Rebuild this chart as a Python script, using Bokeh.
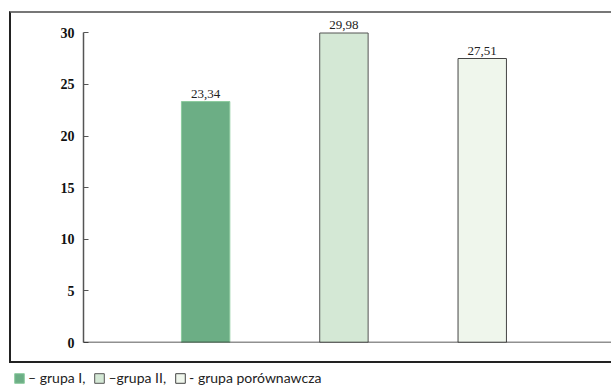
from bokeh.plotting import figure
from bokeh.layouts import column
from bokeh.models import (ColumnDataSource, Range1d, LinearAxis, FixedTicker,
                          Span, LabelSet, Legend, LegendItem)
from bokeh.embed import file_html
from bokeh.resources import INLINE

# Data
groups = ["grupa I", "grupa II", "grupa porównawcza"]
values = [23.34, 29.98, 27.51]
value_labels = ["23,34", "29,98", "27,51"]
legend_labels = ["– grupa I,", "–grupa II,", "- grupa porównawcza"]
y_ticks = [0, 5, 10, 15, 20, 25, 30]

fills = ["#6cae85", "#d4e8d5", "#eff6ec"]
edges = ["#8ccb9e", "#555555", "#444444"]

positions = [i + 1 for i in range(len(groups))]
src = ColumnDataSource(dict(x=positions, top=values, lab=value_labels,
                            fill=fills, edge=edges, name=groups))

# Chart, framed on the left, top and bottom by a CSS border
chart = figure(width=600, height=348, output_backend="svg", toolbar_location=None,
               x_range=Range1d(0.117, 3.949), y_range=Range1d(0, 31.87),
               min_border_left=72, min_border_right=0, min_border_top=0,
               min_border_bottom=23, x_axis_location=None, y_axis_location=None,
               background_fill_color=None, border_fill_color=None,
               frame_align=False,
               styles={"box-sizing": "content-box", "overflow": "visible",
                       "margin-left": "9px", "margin-top": "11px",
                       "border-left": "2px solid #222222",
                       "border-top": "2px solid #777777",
                       "border-bottom": "2px solid #222222"})
chart.outline_line_color = None
chart.grid.grid_line_color = None

# Y axis: bold serif labels, ticks pointing into the plot
yaxis = LinearAxis(ticker=FixedTicker(ticks=y_ticks), bounds=(0, 30))
yaxis.axis_line_color = "#555555"
yaxis.axis_line_width = 1.5
yaxis.major_tick_in = 5
yaxis.major_tick_out = 0
yaxis.major_tick_line_color = "#555555"
yaxis.major_tick_line_width = 1.2
yaxis.minor_tick_line_color = None
yaxis.major_label_standoff = 9
yaxis.major_label_text_font = "Liberation Serif"
yaxis.major_label_text_font_style = "bold"
yaxis.major_label_text_font_size = "14px"
yaxis.major_label_text_color = "#111111"
chart.add_layout(yaxis, "left")

# Baseline
chart.add_layout(Span(location=0, dimension="width", line_color="#222222",
                      line_width=1.5))

bars = chart.vbar(x="x", top="top", width=0.35, bottom=0, source=src,
                  fill_color="fill", line_color="edge", line_width=1)

chart.add_layout(LabelSet(x="x", y="top", text="lab", source=src,
                          text_align="center", text_baseline="bottom", y_offset=4,
                          text_font="Lato", text_font_size="13px",
                          text_color="#222222"))

# Legend strip below the framed chart; its bar renderer only feeds the legend
# swatches, the visible ranges lie away from the data
key = figure(width=611, height=24, output_backend="svg", toolbar_location=None,
             x_range=Range1d(100, 101), y_range=Range1d(100, 101),
             min_border=0, x_axis_location=None, y_axis_location=None,
             background_fill_color=None, border_fill_color=None,
             frame_align=False)
key.outline_line_color = None
key.grid.grid_line_color = None
key_bars = key.vbar(x="x", top="top", width=0.35, bottom=0, source=src,
                    fill_color="fill", line_color="edge", line_width=1)

legend = Legend(items=[LegendItem(label=legend_labels[i], renderers=[key_bars], index=i)
                       for i in range(len(groups))],
                orientation="horizontal", location=(13, 1),
                glyph_width=12, glyph_height=12, label_standoff=3, spacing=8,
                padding=0, margin=0, border_line_color=None,
                background_fill_alpha=0, label_text_font="Lato",
                label_text_font_size="14px", label_text_color="#222222",
                label_height=13)
key.add_layout(legend)

page = column(chart, key, spacing=0)

open("out.html", "w").write(file_html(page, INLINE))
